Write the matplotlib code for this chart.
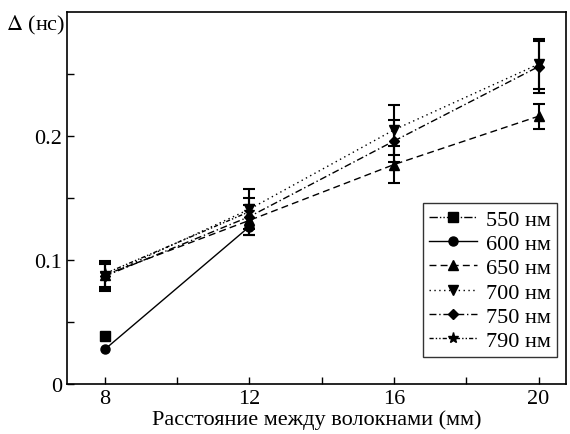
import matplotlib.pyplot as plt
import numpy as np

plt.rcParams['font.family'] = ['Liberation Serif', 'DejaVu Serif']
plt.rcParams['mathtext.fontset'] = 'stix'

# distance between fibres (mm) and delay (ns) for each wavelength
x_all = [8, 12, 16, 20]

x_550 = [8]
y_550 = [0.039]

x_600 = [8, 12]
y_600 = [0.028, 0.127]

y_650 = [0.088, 0.132, 0.177, 0.216]
e_650 = [0.010, 0.012, 0.015, 0.010]

y_700 = [0.087, 0.141, 0.205, 0.258]
e_700 = [0.012, 0.016, 0.020, 0.020]

y_750 = [0.087, 0.135, 0.196, 0.256]
e_750 = [0.010, 0.015, 0.017, 0.021]

x_790 = [8, 12]
y_790 = [0.089, 0.139]

labels = ['550 нм', '600 нм', '650 нм', '700 нм', '750 нм', '790 нм']

fig = plt.figure(figsize=(5.7, 4.35), dpi=100)
ax = fig.add_axes([0.1175, 0.115, 0.875, 0.855])

ms = 6.5
lw = 1.0
fs = 16
l550, = ax.plot(x_550, y_550, color='black', lw=lw, ls=(0, (6, 1.5, 1, 1.5, 1, 1.5)),
                marker='s', ms=ms)
l600, = ax.plot(x_600, y_600, color='black', lw=lw, ls='-', marker='o', ms=ms)
eb650 = ax.errorbar(x_all, y_650, yerr=e_650, color='black', lw=lw, ls=(0, (5, 3)),
                    marker='^', ms=ms, capsize=4, elinewidth=1.5, capthick=1.5)
eb700 = ax.errorbar(x_all, y_700, yerr=e_700, color='black', lw=lw, ls=(0, (1, 2.5)),
                    marker='v', ms=ms, capsize=4, elinewidth=1.5, capthick=1.5)
eb750 = ax.errorbar(x_all, y_750, yerr=e_750, color='black', lw=lw, ls=(0, (5, 2, 1, 2)),
                    marker='D', ms=5.5, capsize=4, elinewidth=1.5, capthick=1.5)
l790, = ax.plot(x_790, y_790, color='black', lw=lw, ls=(0, (3, 1.5, 1, 1.5, 1, 1.5)),
                marker='*', ms=8)

ax.set_xlim(6.95, 20.75)
ax.set_ylim(0, 0.3)
ax.set_xticks([8, 12, 16, 20])
ax.set_xticks([10, 14, 18], minor=True)
ax.set_yticks([0, 0.1, 0.2])
ax.set_yticklabels(['0', '0.1', '0.2'])
ax.set_yticks([0.05, 0.15, 0.25], minor=True)
ax.tick_params(which='both', direction='in', length=5, width=1, labelsize=fs,
               top=False, right=False)
for s in ax.spines.values():
    s.set_linewidth(1.2)

ax.set_xlabel('Расстояние между волокнами (мм)', fontsize=fs, labelpad=1)
fig.text(0.01, 0.942, r'$\mathit{\Delta}$ (нс)', fontsize=fs, va='center', ha='left')

handles = [l550, l600, eb650[0], eb700[0], eb750[0], l790]
leg = ax.legend(handles, labels, loc='lower right', bbox_to_anchor=(0.982, 0.073),
                borderaxespad=0, fontsize=fs, frameon=True, fancybox=False,
                edgecolor='black', handlelength=2.2, handletextpad=0.4,
                labelspacing=0.17, borderpad=0.25)
leg.get_frame().set_linewidth(1.0)

fig.savefig('out.png', dpi=100)
